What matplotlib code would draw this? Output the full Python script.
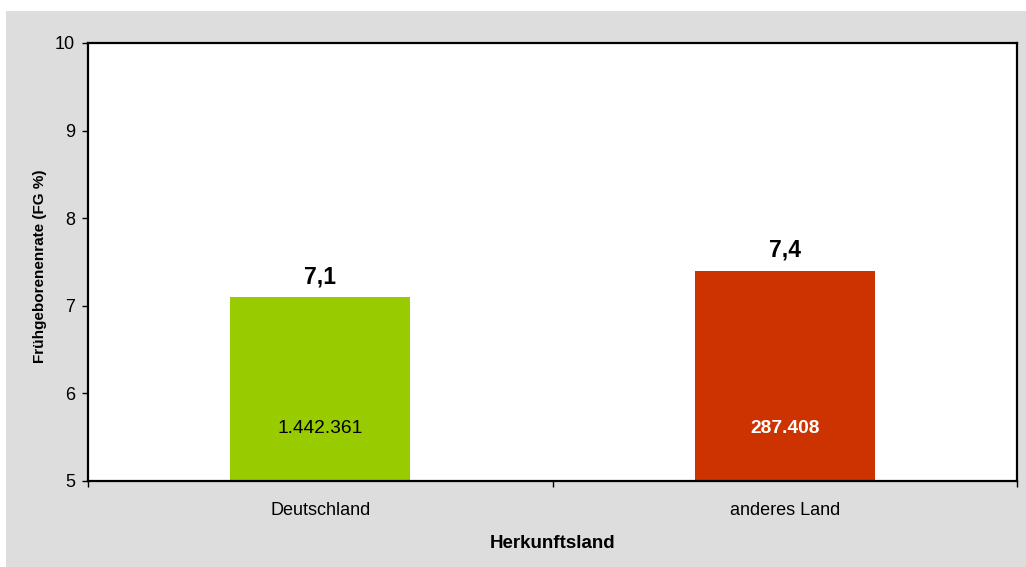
import numpy as np
import matplotlib.pyplot as plt
from matplotlib.patches import Rectangle

plt.rcParams['font.family'] = ['Liberation Sans', 'DejaVu Sans']

# data
countries = ['Deutschland', 'anderes Land']
fg_rate = [7.1, 7.4]
fg_labels = ['7,1', '7,4']
births = ['1.442.361', '287.408']
bar_colors = ['#99CC00', '#CC3300']
count_colors = ['black', 'white']
count_weights = ['normal', 'bold']

fig = plt.figure(figsize=(10.26, 5.67), dpi=100, facecolor='white')
# gray chart area
fig.patches.append(Rectangle((6 / 1026, 0), 1, 1 - 11 / 567, transform=fig.transFigure,
                             facecolor='#DDDDDD', edgecolor='none', zorder=-10))

ax = fig.add_axes([88 / 1026, 1 - 481 / 567, (1017 - 88) / 1026, (481 - 43) / 567])
ax.set_facecolor('white')

x = np.arange(len(countries))
ax.bar(x, np.array(fg_rate) - 5, bottom=5, width=0.387, color=bar_colors, zorder=2)

for i in range(len(countries)):
    ax.annotate(fg_labels[i], (x[i], fg_rate[i]), xytext=(0, 10), textcoords='offset points',
                ha='center', va='baseline', fontsize=16.5, fontweight='bold')
    ax.text(x[i], 5.6, births[i], ha='center', va='center', fontsize=13.8,
            color=count_colors[i], fontweight=count_weights[i], zorder=3)

ax.set_xlim(-0.5, 1.5)
ax.set_ylim(5, 10)
ax.set_yticks(range(5, 11))
ax.set_xticks(x)
ax.set_xticklabels(countries)
ax.set_xticks([-0.5, 0.5, 1.5], minor=True)
ax.tick_params(axis='x', which='major', length=0, pad=15, labelsize=13)
ax.tick_params(axis='x', which='minor', length=4.3, width=1, direction='out')
ax.tick_params(axis='y', length=4.3, width=1, direction='out', pad=5, labelsize=13)

for sp in ax.spines.values():
    sp.set_linewidth(1.6)
    sp.set_color('black')

ax.set_xlabel('Herkunftsland', fontsize=13.5, fontweight='bold', labelpad=12)
ax.set_ylabel('Frühgeborenenrate (FG %)', fontsize=11, fontweight='bold', labelpad=5.5)
ax.yaxis.label.set_y(0.5 - 4 / 438)

fig.savefig('out.png', dpi=100, facecolor=fig.get_facecolor())
